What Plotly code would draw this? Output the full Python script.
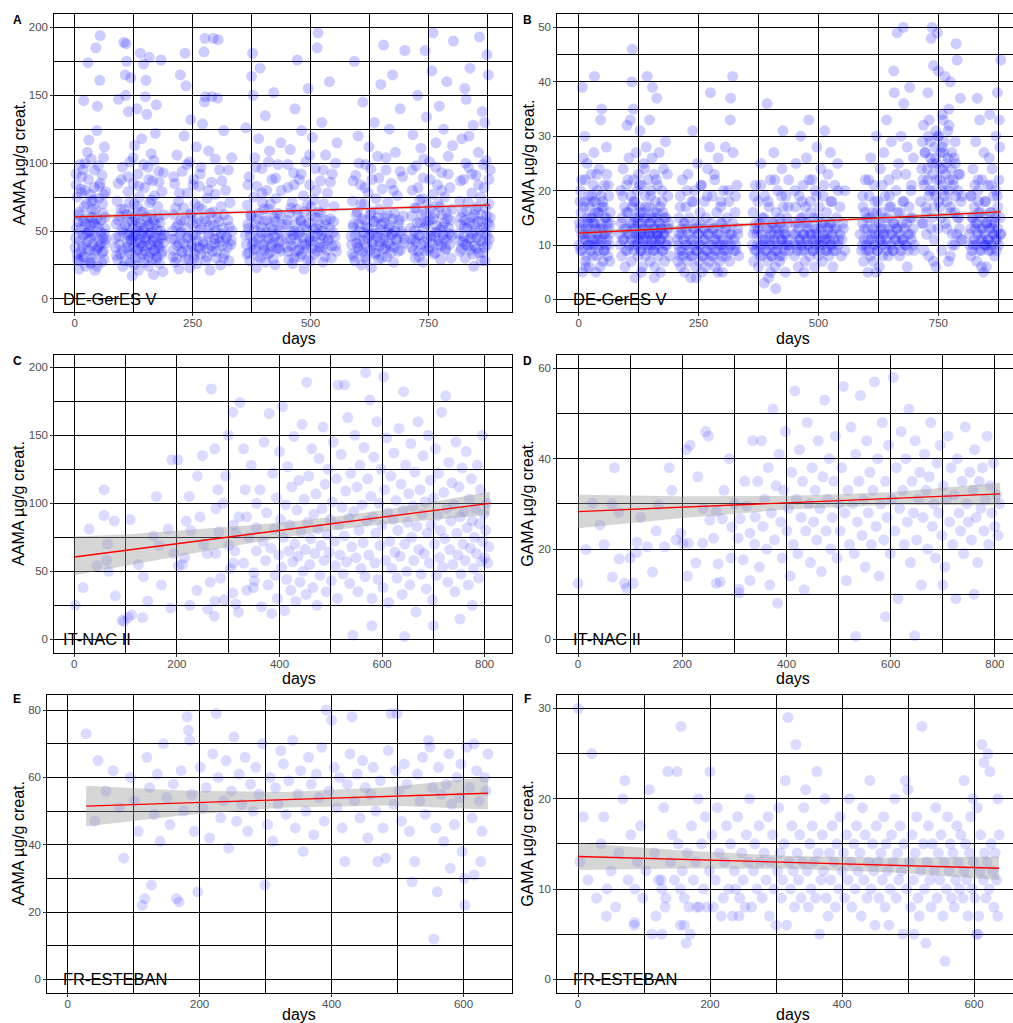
import plotly.graph_objects as go

W, H = 1013, 1023

# ---------------- DATA ----------------
# Panel A: DE-GerES V, AAMA (days, value)
A_obs = [
(2,45),(5,33),(8,62),(10,28),(12,51),(14,78),(16,39),(18,95),(19,146),(21,57),
(23,24),(25,70),(26,42),(28,174),(29,88),(31,36),(33,54),(35,103),(36,30),(38,66),
(40,47),(41,82),(43,21),(45,185),(46,59),(48,142),(49,38),(51,74),(53,161),(54,194),
(55,49),(57,27),(58,91),(60,63),(61,35),(63,112),(64,52),(66,44),(3,84),(7,57),
(11,99),(15,31),(20,68),(24,48),(30,117),(34,26),(39,73),(44,55),(50,98),(56,41),
(62,77),(9,22),(27,108),(47,124),(37,60),
(1,38),(4,52),(6,29),(9,64),(12,43),(13,35),(17,58),(18,47),(20,31),(22,80),
(24,55),(26,37),(28,49),(30,61),(32,27),(34,44),(36,72),(38,40),(40,56),(42,33),
(44,66),(46,46),(48,24),(50,53),(52,39),(54,85),(56,58),(58,34),(60,45),(62,29),
(64,60),(65,41),(5,75),(15,90),(31,50),(47,36),(59,70),(63,48),
(3,92),(13,81),(22,100),(33,77),(42,95),(52,83),(61,104),(66,79),
(86,38),(88,55),(90,72),(91,29),(93,147),(94,46),(96,61),(97,33),(99,88),(100,51),
(102,24),(104,189),(105,66),(107,165),(108,150),(109,188),(110,175),(111,42),(112,57),(113,79),
(114,138),(115,35),(116,49),(117,101),(118,27),(119,163),(120,63),(121,44),(122,17),(123,52),
(124,85),(125,38),(126,70),(127,113),(128,30),(129,47),(130,58),(132,140),(133,36),(134,92),
(135,21),(136,53),(137,75),(139,181),(140,41),(141,64),(142,118),(143,33),(144,50),(146,173),
(147,27),(148,82),(149,45),(150,149),(151,161),(152,60),(153,136),(154,39),(155,97),(156,24),
(157,55),(158,178),(159,71),(160,34),(161,48),(162,107),(163,62),(164,29),(165,87),(166,43),
(167,18),(168,58),(169,76),(170,36),(171,122),(173,143),(174,51),(175,31),(176,68),(177,40),
(178,94),(180,26),(181,56),(183,176),(184,45),(185,79),(186,35),(187,20),(189,62),(190,47),
(87,45),(89,32),(92,58),(95,40),(98,66),(101,36),(103,49),(106,28),(108,54),(110,62),
(112,38),(114,47),(116,71),(118,43),(120,33),(122,57),(124,46),(126,25),(128,60),(130,42),
(131,50),(133,68),(135,37),(137,44),(138,56),(140,30),(142,48),(144,39),(145,64),(147,52),
(149,35),(151,43),(153,58),(155,47),(157,31),(159,54),(161,40),(163,73),(165,49),(167,36),
(169,45),(171,55),(173,29),(175,42),(177,60),(179,38),(182,50),(184,33),(186,47),(188,41),
(92,85),(101,97),(113,90),(124,104),(136,83),(146,99),(157,88),(168,102),(179,86),(188,93),
(206,44),(208,31),(210,62),(212,85),(213,27),(215,53),(217,106),(218,39),(220,72),(221,22),
(223,48),(224,165),(225,58),(227,35),(228,94),(230,41),(231,67),(232,120),(234,181),(235,29),
(236,157),(237,52),(239,78),(240,36),(241,45),(243,101),(244,23),(246,132),(247,63),(248,40),
(250,55),(252,88),(253,30),(255,70),(256,47),(258,112),(259,26),(261,59),(262,38),(264,83),
(265,51),(267,33),(268,97),(270,66),(271,129),(272,42),(274,182),(275,145),(276,192),(277,149),
(278,28),(279,57),(281,74),(282,37),(284,109),(285,48),(287,21),(288,63),(290,86),(291,149),
(292,35),(294,192),(295,54),(297,41),(298,77),(300,30),(302,60),(303,148),(304,191),(305,45),
(307,95),(309,25),(310,68),(312,39),(314,52),(316,124),(318,33),(320,80),(322,46),(325,58),
(327,28),(329,71),(331,40),(333,104),(334,50),
(207,50),(209,36),(211,44),(214,67),(216,30),(219,55),(222,41),(226,49),(229,34),(233,58),
(238,45),(242,29),(245,62),(249,38),(251,47),(254,33),(257,56),(260,43),(263,68),(266,37),
(269,52),(273,40),(276,59),(280,31),(283,46),(286,54),(289,39),(293,64),(296,44),(299,50),
(301,35),(306,57),(308,42),(311,48),(315,30),(317,62),(321,45),(324,38),(328,53),(332,43),
(210,90),(222,78),(238,99),(251,84),(266,92),(283,80),(298,103),(312,87),(326,95),
(362,47),(363,126),(365,33),(366,69),(368,52),(370,90),(371,28),(373,61),(375,164),(376,40),
(377,181),(378,150),(379,75),(380,36),(382,104),(383,55),(385,23),(386,83),(388,44),(390,118),
(391,63),(393,170),(394,30),(395,49),(397,96),(398,71),(400,38),(402,57),(404,135),(405,27),
(407,80),(409,45),(411,66),(413,109),(414,34),(416,53),(418,88),(420,41),(422,152),(423,60),
(425,25),(427,74),(429,48),(431,99),(433,37),(435,62),(437,115),(439,43),
(364,40),(367,55),(369,34),(372,47),(374,62),(378,42),(381,51),(384,37),(387,59),(389,31),
(392,45),(396,53),(399,40),(401,66),(403,36),(406,49),(408,58),(410,33),(412,44),(415,70),
(417,39),(419,51),(421,29),(424,46),(426,57),(428,37),(430,63),(432,42),(434,50),(436,35),(438,55),
(367,84),(384,97),(397,78),(411,101),(426,89),(438,80),
(448,55),(450,38),(452,82),(454,29),(455,63),(457,110),(459,44),(461,71),(462,26),(464,93),
(466,50),(467,140),(469,35),(471,66),(472,176),(474,47),(476,88),(478,31),(479,58),(481,124),
(483,40),(485,76),(486,22),(488,54),(490,101),(491,37),(493,69),(495,155),(497,45),(498,84),
(500,28),(502,61),(504,119),(505,42),(507,73),(509,33),(510,96),(512,52),(514,185),(516,196),
(517,64),(519,38),(521,87),(523,47),(524,130),(526,27),(528,70),(530,55),(532,106),(534,36),
(536,78),(538,44),(540,160),(542,59),(544,30),(546,92),(548,49),(550,68),(553,39),(556,115),
(449,45),(451,58),(453,35),(456,50),(458,67),(460,39),(463,47),(465,30),(468,55),(470,42),
(473,62),(475,36),(477,49),(480,57),(482,33),(484,45),(487,64),(489,40),(492,51),(494,29),
(496,56),(499,43),(501,68),(503,37),(506,52),(508,46),(511,60),(513,35),(515,48),(518,55),
(520,41),(522,63),(525,38),(527,50),(529,45),(531,31),(533,58),(537,43),(541,52),(545,39),
(549,57),(552,46),(555,35),
(452,99),(465,84),(480,92),(498,106),(512,80),(527,95),(542,86),(553,100),
(586,46),(588,33),(589,72),(591,55),(593,175),(594,28),(596,91),(598,41),(599,64),(601,120),
(603,36),(604,50),(606,84),(608,25),(609,59),(611,145),(612,43),(614,70),(616,31),(617,99),
(619,53),(620,38),(622,78),(624,112),(625,47),(627,62),(629,23),(630,88),(632,40),(634,57),
(635,130),(637,34),(639,74),(640,49),(642,105),(644,29),(645,66),(647,42),(649,158),(650,55),
(652,81),(654,37),(655,187),(657,60),(659,45),(660,95),(662,31),(664,71),(666,52),(667,125),
(669,39),(671,85),(673,48),(674,165),(676,27),(678,63),(680,108),(682,44),(684,76),(686,35),
(688,58),(690,140),(692,50),(695,90),(698,41),(700,183),
(587,40),(590,53),(592,31),(595,47),(597,62),(600,38),(602,55),(605,43),(607,70),(610,35),
(613,49),(615,58),(618,29),(621,45),(623,52),(626,36),(628,64),(631,42),(633,48),(636,57),
(638,33),(641,46),(643,60),(646,39),(648,51),(651,30),(653,44),(656,56),(658,37),(661,49),
(663,62),(665,41),(668,54),(670,34),(672,47),(675,59),(677,38),(679,50),(683,43),(687,55),
(691,36),(694,48),(697,61),(699,44),
(590,87),(603,100),(615,82),(628,96),(645,89),(660,104),(676,80),(690,94),
(712,52),(714,38),(716,80),(717,121),(719,44),(721,67),(722,30),(724,98),(726,56),(727,150),
(729,35),(731,73),(732,47),(734,111),(736,62),(738,27),(739,89),(741,42),(743,183),(745,55),
(746,134),(748,70),(750,36),(752,101),(753,58),(755,46),(757,168),(759,77),(760,196),(762,33),
(764,63),(766,115),(767,49),(769,84),(771,40),(773,142),(774,68),(776,29),(778,93),(780,53),
(782,125),(783,44),(785,75),(787,37),(789,160),(790,59),(792,105),(794,48),(796,82),(798,30),
(800,66),(803,190),(801,113),
(713,44),(715,61),(718,36),(720,50),(723,42),(725,67),(728,47),(730,31),(733,56),(735,40),
(737,74),(740,52),(742,35),(744,63),(747,45),(749,57),(751,38),(754,66),(756,49),(758,41),
(761,59),(763,46),(765,34),(768,54),(770,70),(772,43),(775,51),(777,39),(779,62),(781,47),
(784,56),(786,36),(788,64),(791,44),(793,52),(795,40),(797,58),(799,47),
(715,95),(728,82),(740,103),(753,88),(765,97),(778,80),(792,92),
(814,48),(816,72),(817,35),(819,60),(821,118),(823,42),(824,88),(826,53),(828,30),(830,147),
(831,65),(833,39),(835,97),(837,56),(838,170),(840,45),(842,78),(844,33),(845,128),(847,62),
(849,50),(851,91),(852,37),(854,68),(856,108),(858,193),(859,43),(861,75),(863,57),(864,138),
(866,34),(868,82),(870,49),(872,102),(873,61),(875,40),(877,165),(878,70),(880,54),(881,95),
(846,24),(862,28),(836,120),(827,155),(869,130),(874,180),
(815,43),(818,55),(820,37),(822,64),(825,46),(827,58),(829,40),(832,52),(834,71),(836,44),
(839,36),(841,60),(843,48),(846,55),(848,39),(850,66),(853,45),(855,57),(857,34),(860,50),
(862,62),(865,42),(867,53),(869,38),(871,67),(874,47),(876,56),(879,44),(881,60),(870,28),
(818,87),(829,100),(842,92),(856,84),(866,99),(878,88),
]

# Panel B: DE-GerES V, GAMA (days, value)
B_obs = [
(2,14),(4,9),(6,22),(8,39),(9,11),(11,17),(13,30),(14,7),(16,13),(18,25),
(19,10),(21,19),(22,6),(24,15),(26,23),(27,12),(29,8),(30,18),(32,27),(33,41),
(34,14),(36,5),(37,11),(39,20),(40,16),(42,9),(43,24),(45,13),(46,33),(48,35),
(49,17),(51,7),(52,12),(54,21),(55,15),(57,10),(58,28),(60,14),(61,8),(63,19),
(64,12),(66,16),(3,18),(7,12),(10,26),(15,6),(20,14),(25,10),(31,21),(35,16),
(41,11),(47,19),(53,9),(59,23),(65,7),
(1,10),(3,13),(5,16),(7,9),(9,14),(11,12),(12,18),(14,11),(16,8),(17,15),
(19,12),(21,10),(23,17),(24,13),(26,9),(28,15),(29,11),(31,14),(33,10),(35,18),
(37,13),(38,8),(40,12),(42,16),(44,10),(46,14),(48,11),(50,13),(52,17),(54,9),
(56,12),(58,15),(60,11),(62,13),(64,10),(66,14),
(4,20),(14,22),(27,19),(38,23),(50,18),(62,21),(8,5),(45,6),
(86,12),(88,20),(90,8),(91,15),(93,24),(94,11),(96,17),(97,6),(99,13),(100,21),
(101,32),(102,9),(104,16),(105,26),(107,12),(108,33),(109,19),(110,7),(111,40),(112,46),
(113,14),(114,35),(115,22),(116,10),(117,18),(118,4),(119,13),(120,27),(121,11),(122,20),
(123,15),(124,8),(125,23),(126,12),(127,17),(128,31),(129,9),(130,14),(132,21),(133,6),
(134,16),(135,11),(136,25),(137,13),(139,19),(140,8),(141,28),(142,15),(143,41),(144,10),
(145,22),(146,12),(147,17),(148,33),(149,7),(150,14),(151,20),(152,11),(153,26),(154,39),
(155,9),(156,16),(157,13),(158,23),(159,6),(160,18),(161,10),(162,15),(163,37),(164,12),
(165,21),(166,8),(167,14),(168,27),(169,11),(170,17),(171,5),(172,13),(174,20),(175,9),
(176,16),(177,24),(178,12),(179,7),(181,29),(182,15),(184,10),(186,19),(188,13),(190,8),
(87,10),(89,14),(92,11),(95,13),(98,9),(100,16),(103,12),(106,10),(108,14),(110,11),
(112,17),(114,13),(116,9),(118,15),(120,12),(122,10),(124,14),(126,11),(128,16),(130,12),
(131,9),(133,13),(135,10),(137,15),(138,12),(140,17),(142,11),(144,13),(145,9),(147,14),
(149,12),(151,10),(153,15),(155,12),(157,9),(159,13),(161,11),(163,16),(165,12),(167,10),
(169,14),(171,11),(173,13),(175,9),(177,12),(179,15),(182,10),(184,13),(186,11),(188,14),
(92,19),(103,22),(115,18),(127,21),(138,24),(150,19),(162,22),(174,18),(185,23),(131,5),(158,4),
(206,11),(207,7),(209,15),(210,9),(212,19),(213,6),(215,12),(216,22),(218,8),(219,14),
(221,5),(222,10),(224,17),(225,13),(227,7),(228,23),(230,9),(231,15),(233,11),(234,4),
(236,18),(237,8),(238,31),(239,13),(241,10),(242,20),(244,6),(245,14),(247,9),(248,25),
(250,12),(251,7),(253,16),(254,10),(256,21),(257,5),(259,13),(260,8),(262,18),(263,11),
(265,6),(266,15),(268,9),(269,24),(271,12),(272,7),(273,28),(275,38),(276,14),(278,10),
(279,19),(281,8),(282,13),(284,22),(285,6),(287,11),(288,16),(290,9),(291,26),(293,12),
(294,7),(296,17),(297,10),(299,14),(300,5),(302,20),(303,9),(305,13),(306,28),(308,8),
(309,15),(311,11),(313,18),(315,7),(316,33),(317,37),(319,12),(321,41),(322,27),(324,9),
(326,16),(328,10),(330,21),(332,13),(334,8),
(207,10),(209,12),(211,8),(214,13),(216,9),(219,11),(222,14),(226,10),(229,12),(233,8),
(238,11),(242,13),(245,9),(249,12),(251,10),(254,14),(257,8),(260,11),(263,13),(266,9),
(269,12),(273,10),(276,8),(280,13),(283,11),(286,9),(289,12),(293,10),(296,14),(299,8),
(301,11),(306,10),(308,13),(311,9),(315,12),(317,10),(321,14),(324,11),(328,9),(332,12),
(212,17),(226,20),(240,18),(255,21),(268,19),(283,23),(297,18),(312,20),(327,19),(245,4),(290,5),
(362,10),(364,16),(365,7),(367,13),(369,21),(370,9),(372,12),(374,18),(375,6),(377,14),
(379,10),(380,25),(382,8),(383,15),(385,11),(387,3),(388,19),(390,9),(392,13),(393,36),
(395,7),(397,17),(398,11),(400,22),(402,8),(403,14),(405,10),(407,27),(408,12),(410,6),
(412,16),(414,9),(415,20),(417,13),(419,7),(420,15),(422,11),(424,24),(425,8),(427,17),
(429,12),(431,5),(432,19),(434,10),(436,14),(438,22),(439,9),(426,31),(411,2),(396,4),
(364,12),(367,9),(369,14),(372,10),(374,13),(378,8),(381,12),(384,10),(387,15),(389,11),
(392,9),(396,13),(399,10),(401,12),(403,8),(406,14),(408,11),(410,9),(412,13),(415,10),
(417,12),(419,8),(421,14),(424,11),(426,10),(428,13),(430,9),(432,12),(434,15),(436,11),(438,10),
(366,19),(380,21),(395,18),(409,22),(423,19),(437,17),(400,5),
(448,12),(450,8),(452,17),(453,25),(455,10),(457,14),(458,6),(460,19),(462,11),(463,30),
(465,9),(467,15),(468,21),(470,12),(472,7),(473,17),(475,26),(477,10),(478,14),(480,33),
(482,8),(483,18),(485,12),(487,22),(488,9),(490,15),(492,6),(493,20),(495,11),(497,28),
(498,13),(500,8),(502,17),(503,10),(505,24),(507,14),(508,7),(510,19),(512,11),(513,31),
(515,9),(517,16),(518,12),(520,23),(522,8),(523,14),(525,27),(527,10),(528,18),(530,6),
(532,13),(534,21),(536,9),(538,15),(540,25),(542,11),(545,17),(548,8),(551,14),(555,20),
(449,10),(451,14),(453,12),(456,9),(458,13),(460,11),(463,15),(465,10),(468,12),(470,9),
(473,14),(475,11),(477,13),(480,10),(482,12),(484,16),(487,11),(489,9),(492,13),(494,10),
(496,12),(499,15),(501,11),(503,9),(506,13),(508,10),(511,12),(513,14),(515,11),(518,9),
(520,13),(522,11),(525,10),(527,14),(529,12),(531,9),(533,11),(537,13),(541,10),(545,12),
(549,11),(552,13),(555,9),
(451,20),(466,18),(481,22),(496,19),(511,21),(526,18),(541,20),(470,5),
(591,10),(593,17),(594,7),(596,13),(598,22),(599,9),(601,15),(603,5),(604,11),(606,19),
(608,8),(609,26),(611,12),(613,16),(614,7),(616,21),(618,10),(619,14),(621,30),(622,9),
(624,18),(626,12),(627,6),(629,24),(631,11),(632,16),(634,8),(636,27),(637,13),(639,19),
(641,10),(642,33),(644,15),(646,8),(647,22),(649,12),(651,17),(652,29),(654,9),(656,14),
(657,42),(658,38),(660,11),(662,20),(664,49),(665,13),(667,25),(669,8),(670,16),(672,30),
(674,11),(676,18),(677,50),(678,36),(680,10),(682,23),(684,14),(685,28),(687,9),(689,17),
(690,39),(692,12),(694,21),(696,15),(698,26),(700,10),
(587,12),(590,9),(592,14),(595,11),(597,16),(600,10),(602,13),(605,9),(607,15),(610,11),
(613,13),(615,10),(618,12),(621,16),(623,9),(626,14),(628,11),(631,13),(633,10),(636,12),
(638,15),(641,11),(643,9),(646,13),(648,17),(651,10),(653,12),(656,9),(658,14),(661,11),
(663,13),(665,16),(668,10),(670,12),(672,9),(675,14),(677,11),(679,13),(683,10),(687,12),
(691,15),(694,11),(697,13),(699,9),
(592,19),(605,22),(618,18),(633,21),(648,19),(663,23),(678,18),(693,20),(620,5),(685,6),
(716,14),(718,22),(719,32),(720,9),(722,27),(724,17),(725,12),(727,24),(729,30),(730,8),
(732,20),(733,26),(735,48),(736,15),(737,50),(738,23),(740,43),(741,11),(743,28),(744,19),
(746,25),(748,49),(749,13),(750,42),(751,30),(753,22),(754,17),(755,27),(757,9),(758,34),
(759,24),(761,20),(762,29),(764,41),(765,14),(767,25),(768,18),(770,31),(771,7),(773,22),
(775,40),(776,16),(778,27),(779,12),(781,21),(783,26),(784,10),(786,19),(787,47),(789,44),
(790,15),(792,23),(794,13),(796,37),(797,18),(799,11),(745,6),(760,33),(772,35),(728,38),
(713,18),(715,24),(718,14),(720,21),(723,27),(725,16),(728,22),(730,19),(733,29),(735,13),
(737,25),(740,20),(742,17),(744,26),(747,22),(749,30),(751,18),(754,24),(756,15),(758,21),
(761,27),(763,19),(765,23),(768,13),(770,26),(772,20),(775,17),(777,24),(779,10),(781,22),
(784,16),(786,25),(788,12),(791,20),(793,15),(795,23),(797,11),(799,19),
(717,29),(731,33),(745,31),(758,28),(772,32),(785,29),(740,7),(775,8),
(815,12),(817,19),(818,8),(820,15),(822,24),(823,10),(825,17),(827,13),(828,29),(830,7),
(831,14),(833,20),(835,11),(836,33),(838,16),(839,9),(841,22),(843,13),(845,27),(846,10),
(848,18),(850,6),(851,14),(853,21),(855,11),(857,34),(858,16),(860,9),(862,24),(863,13),
(865,19),(867,8),(869,15),(870,30),(872,11),(874,17),(876,22),(877,33),(879,12),(880,44),
(831,37),(844,5),(856,26),(866,12),(873,38),(852,10),(834,18),(861,14),(878,28),(826,21),
(815,10),(818,13),(820,9),(822,15),(825,11),(827,14),(829,10),(832,12),(834,16),(836,9),
(839,13),(841,11),(843,15),(846,12),(848,10),(850,14),(853,11),(855,9),(857,13),(860,16),
(862,10),(865,12),(867,14),(869,11),(871,9),(874,13),(876,10),(879,15),(881,12),(870,20),
(819,19),(833,22),(847,18),(860,21),(873,19),(840,6),
]

# Panel C: IT-NAC II, AAMA
C_obs = [
(2,25),(17,38),(29,81),(44,54),(58,91),(58,110),(63,58),(65,70),(67,50),(78,87),
(80,32),(93,14),(97,13),(105,16),(109,88),(112,18),(125,55),(133,16),(135,46),(143,28),
(154,76),(160,105),(165,69),(170,40),(183,81),(188,23),(190,132),(194,63),(202,132),(203,54),
(211,55),(215,60),(218,87),(224,105),(225,25),(227,80),(239,36),(240,120),(245,90),(250,135),
(252,70),(259,63),(260,22),(265,42),(267,184),(273,17),(274,28),(274,140),(276,63),(276,96),
(280,110),(282,79),(285,45),(290,100),(292,29),(295,120),(300,150),(301,69),(304,52),(309,34),
(309,167),(310,56),(310,84),(313,65),(315,78),(315,26),(320,20),(321,90),(323,174),(330,56),
(330,140),(333,110),(336,36),(336,90),(340,75),(345,128),(349,38),(350,49),(351,43),(355,65),
(355,82),(355,100),
(362,110),(365,24),(368,72),(370,145),(373,58),(375,93),(378,40),(380,166),(383,67),(385,19),
(387,122),(390,81),(392,47),(394,104),(396,30),(398,62),(400,138),(402,88),(404,53),(406,171),
(408,75),(410,21),(412,99),(414,44),(416,127),(418,65),(420,84),(422,36),(424,112),(426,57),
(428,149),(430,70),(432,28),(434,95),(436,61),(438,117),(440,42),(442,79),(444,158),(446,50),
(448,103),(450,66),(452,33),(453,189),(455,86),(457,120),(459,55),(461,74),(463,140),(465,38),
(467,92),(469,63),(471,107),(473,25),(475,81),(477,133),(479,47),(481,69),(483,96),(485,156),
(487,58),(489,114),(491,35),(493,77),(495,125),(497,64),(499,88),(501,43),(503,101),(505,145),
(507,72),(509,54),(511,118),(513,30),(514,187),(516,84),(518,62),(520,136),(522,97),(524,48),
(526,76),(527,187),(529,109),(531,57),(533,163),(535,89),(537,41),(539,122),(541,68),(543,3),
(545,94),(547,150),(549,60),(551,112),(553,35),(555,80),(557,128),(559,52),(561,99),(563,71),
(565,141),(567,46),(568,196),(570,87),(572,118),(574,62),(576,176),(578,105),(580,30),(582,90),
(584,134),(586,56),(588,78),(590,160),(592,44),(594,100),(596,69),(598,125),(600,84),(602,38),
(603,193),(605,110),(607,58),(609,148),(611,93),(613,27),(615,72),(617,120),(619,52),(621,88),
(623,137),(625,64),(627,102),(629,45),(631,80),(633,155),(635,61),(637,114),(639,33),(641,95),
(642,182),(644,70),(646,128),(648,50),(650,86),(652,107),(654,40),(656,144),(658,75),(660,98),
(662,58),(664,123),(666,20),(668,83),(670,160),(672,66),(674,110),(676,48),(678,92),(680,135),
(682,63),(684,101),(686,37),(688,78),(690,150),(692,56),(694,117),(696,84),(698,29),(700,104),
(702,70),(704,140),(706,47),(708,91),(710,122),(712,60),(714,80),(716,167),(718,53),(720,108),
(722,74),(724,179),(726,96),(728,42),(730,130),(732,66),(734,87),(736,115),(738,55),(740,99),
(742,35),(744,145),(746,78),(748,62),(750,112),(752,90),(754,48),(756,126),(758,70),(760,94),
(762,58),(764,138),(766,82),(768,40),(770,103),(772,67),(774,118),(776,87),(778,52),(780,75),
(782,96),(784,63),(786,128),(788,45),(790,85),(792,110),(794,57),(796,72),(798,92),(800,60),
(802,80),(804,100),(806,56),(808,68),(796,150),(776,25),(752,15),(700,10),(644,2),(580,10),
]

# Panel D: IT-NAC II, GAMA
D_obs = [
(0,12.4),(15,19.9),(28,30.2),(42,25.3),(50,21),(65,30),(66,13.8),(70,38),(78,28.1),(79,17.8),
(89,12.4),(93,11.3),(100,18),(106,12.4),(112,19.2),(113,21.5),(120,27),(133,20.5),(143,14.9),(150,24),
(154,29.8),(166,20.5),(175,38),(180,33),(188,22),(197,23.5),(201,21.3),(208,42),(210,14),(212,21.3),
(215,43),(226,16.9),(230,36),(239,21.3),(240,29),(245,46),(250,45),(253,26.4),(260,22.4),(265,28.3),
(265,12.4),(269,16.7),(273,12.7),(277,26.7),(280,33),(290,40),(294,18),(295,24.9),(300,30),(307,22.4),
(309,11.1),(309,10.3),(311,26.7),(317,17.6),(320,35),(324,29.6),(330,23.5),(330,13),(335,44),(339,21.1),
(340,27.1),
(345,35),(348,16),(352,44),(355,25),(358,31),(362,20),(365,38),(368,12),(371,28),(374,51),
(377,22),(380,34),(383,8),(386,41),(389,26),(392,18),(395,33),(398,46),(401,24),(404,29),
(407,14),(410,37),(413,21),(416,55),(419,31),(422,19),(425,42),(428,27),(431,35),(434,11),
(437,24),(440,48),(443,30),(446,17),(449,38),(452,26),(455,33),(458,22),(461,44),(464,29),
(467,15),(470,36),(473,53),(476,24),(479,31),(482,40),(485,20),(488,27),(491,35),(494,45),
(497,18),(500,30),(503,24),(506,38),(509,56),(512,28),(515,13),(518,33),(521,21),(524,47),
(527,30),(530,19),(533,41),(536,26),(539,35),(542,54),(545,23),(548,31),(551,16),(554,44),
(557,28),(560,37),(563,21),(566,33),(569,57),(572,25),(575,40),(578,14),(581,30),(584,48),
(587,22),(590,35),(593,27),(596,43),(599,19),(602,31),(605,58),(608,24),(611,38),(614,9),
(617,29),(620,46),(623,33),(626,21),(629,40),(632,26),(635,51),(638,17),(641,35),(644,28),
(647,44),(650,22),(653,31),(656,37),(659,12),(662,27),(665,41),(668,33),(671,20),(674,36),
(677,48),(680,25),(683,30),(686,18),(689,39),(692,28),(695,43),(698,23),(701,34),(704,16),
(707,31),(710,45),(713,26),(716,38),(719,21),(722,32),(725,9),(728,40),(731,28),(734,24),
(737,35),(740,19),(743,47),(746,30),(749,26),(752,37),(755,22),(758,33),(761,42),(764,27),
(767,17),(770,35),(773,29),(776,38),(779,24),(782,31),(785,45),(788,21),(791,34),(794,28),
(797,39),(800,25),(803,32),(806,23),(809,30),(590,5),(533,0.7),(700,12),(646,0.8),(760,10),
]

# Panel E: FR-ESTEBAN, AAMA
E_obs = [
(28,73),(41,47),(46,65),(58,56),(69,62),(78,51),(85,36),(95,60),(101,53),(107,44),
(113,22),(117,24),(120,66),(124,57),(127,28),(131,49),(136,61),(140,41),(145,70),(150,54),
(155,46),(160,58),(165,24),(169,23),(172,62),(176,50),(181,78),(183,74),(185,71),(188,55),
(192,44),(197,26),(201,63),(205,51),(210,57),(215,42),(220,67),(225,79),(228,60),(232,48),
(236,53),(240,65),(244,39),(248,56),(252,72),(256,47),(260,61),(264,52),(269,66),(273,44),
(277,58),(281,50),(285,63),(290,55),(295,70),(299,28),(303,46),(307,60),(311,41),(315,57),
(319,52),(323,68),(327,64),(331,49),(335,59),(341,71),(345,45),(349,55),(353,62),(357,38),
(361,50),(365,66),(369,58),(373,43),(377,61),(381,54),(385,69),(389,47),(392,80),(396,56),
(400,77),(404,63),(408,51),(412,60),(416,45),(420,35),(424,58),(428,67),(431,78),(435,53),
(439,61),(443,48),(447,65),(451,57),(455,42),(459,55),(463,63),(467,50),(470,35),(474,59),
(478,45),(482,36),(486,68),(490,79),(494,52),(497,62),(499,79),(502,56),(506,47),(510,64),
(514,58),(518,44),(522,29),(526,35),(530,61),(534,53),(538,66),(542,49),(547,71),(549,69),
(553,57),(555,12),(558,45),(562,63),(566,55),(570,41),(574,58),(578,67),(582,52),(586,46),
(590,60),(594,54),(598,38),(601,30),(602,22),(605,69),(609,57),(613,48),(616,70),(616,31),
(620,62),(624,53),(628,44),(632,60),(637,67),(634,56),(626,35),(596,64),(580,33),(560,26),
]

# Panel F: FR-ESTEBAN, GAMA
F_obs = [
(0,30),(3,13),(8,18),(15,11),(21,25),(28,9),(35,15),(39,18),(43,7),(44,10),
(50,12),(57,8),(62,14),(68,20),(71,22),(76,11),(80,16),(85,6),(86,6.3),(86,10),
(90,13),(95,17),(98,9),(103,12),(108,21),(112,5),(116,14),(118,7),(122,11),(126,11),
(127,10),(127,5),(130,19),(132,8),(133,9),(136,23),(140,13),(143,16),(146,11),(150,23),
(152,15),(155,10),(155,6),(156,28),(158,12),(161,9),(161,6),(164,4),(166,14),(168,8),
(170,5),(172,17),(175,11),(178,13),(180,8),(182,20),(184,8),(187,15),(190,10),(193,18),
(196,8),(199,12),(200,23),(203,16),(205,8),(208,11),(211,19),(214,14),(217,7),(220,9),
(222,13),(225,17),(228,10),(231,15),(234,7),(237,12),(239,10),(242,18),(244,7),(245,9),
(248,14),(250,11),(253,8),(255,16),(258,13),(260,20),(263,8),(266,12),(268,15),(271,10),
(274,17),(276,13),(279,9),(282,14),(285,11),(288,18),(290,7),(292,13),(295,16),(297,10),
(300,6),(302,12),(304,19),(306,14),(308,9),(310,11),(312,15),(314,22),(316,6),(318,29),
(320,13),(322,10),(324,17),(326,12),(328,8),(330,26),(332,14),(334,11),(336,16),(338,9),
(340,13),(342,19),(345,21),(347,12),(349,8),(351,15),(353,10),(355,17),(357,13),(360,9),
(362,23),(364,14),(366,5),(368,11),(370,16),(372,12),(374,20),(376,9),(379,7),(381,14),
(383,11),(385,17),(388,13),(390,8),(392,15),(395,10),(397,18),(400,12),(402,14),(404,9),
(407,16),(409,11),(411,20),(413,13),(415,8),(418,15),(420,10),(422,17),(424,12),(427,14),
(429,7),(431,19),(433,11),(435,16),(438,9),(440,13),(442,22),(444,10),(446,15),(448,12),
(450,6),(452,17),(454,13),(456,9),(459,14),(461,11),(463,18),(465,8),(467,15),(469,12),
(471,6),(473,10),(475,16),(477,13),(480,20),(482,9),(484,14),(486,11),(488,17),(490,12),
(492,5),(494,15),(496,22),(498,10),(500,21),(502,13),(504,8),(506,16),(508,11),(509,5),
(511,14),(513,18),(515,9),(517,7),(519,12),(521,28),(523,15),(525,10),(527,4),(529,13),
(531,17),(533,11),(535,8),(537,15),(540,12),(542,19),(544,9),(546,14),(548,11),(550,16),
(553,7),(555,13),(556,2),(558,10),(560,18),(562,12),(564,15),(566,9),(568,14),(570,8),
(572,11),(574,17),(576,13),(578,10),(580,16),(583,9),(585,12),(587,15),(589,11),(591,7),
(593,14),(595,18),(597,10),(599,13),(601,9),(604,5),(606,5),(607,7),(609,12),(610,16),
(612,26),(614,11),(616,14),(618,9),(620,13),(621,25),(623,10),(624,23),(626,15),(628,12),
(630,8),(632,14),(634,11),(636,20),(636,7),(638,16),(615,24),(605,19),(598,20),(585,22),
]

# Linear fits and 95% bands (days, value)
fit_days_A = [0, 880];  fit_A = [60.4, 69.0]
band_days_A = [0, 220, 440, 660, 880]
band_lo_A = [58.8, 61.45, 63.9, 65.85, 67.6]
band_hi_A = [62.0, 63.65, 65.5, 67.85, 70.4]

fit_days_B = [0, 880];  fit_B = [12.2, 16.1]
band_days_B = [0, 220, 440, 660, 880]
band_lo_B = [11.7, 12.83, 13.87, 14.8, 15.65]
band_hi_B = [12.7, 13.53, 14.43, 15.46, 16.55]

fit_days_C = [0, 810];  fit_C = [60.5, 100.0]
band_days_C = [0, 100, 200, 300, 400, 500, 600, 700, 810]
band_lo_C = [47.0, 53.7, 60.75, 67.8, 74.4, 80.0, 84.55, 88.0, 91.5]
band_hi_C = [75.5, 77.1, 79.75, 82.4, 85.6, 89.8, 94.95, 101.2, 108.5]

fit_days_D = [0, 810];  fit_D = [28.3, 32.2]
band_days_D = [0, 200, 400, 600, 810]
band_lo_D = [24.6, 26.86, 28.73, 29.79, 29.7]
band_hi_D = [32.0, 31.66, 31.73, 32.59, 34.7]

fit_days_E = [28, 637];  fit_E = [51.5, 55.3]
band_days_E = [28, 180, 330, 485, 637]
band_lo_E = [45.5, 48.85, 51.09, 51.65, 50.5]
band_hi_E = [57.5, 56.05, 55.69, 57.05, 60.1]

fit_days_F = [0, 638];  fit_F = [13.6, 12.3]
band_days_F = [0, 160, 320, 480, 638]
band_lo_F = [12.1, 12.27, 12.25, 11.82, 11.0]
band_hi_F = [15.1, 14.27, 13.65, 13.42, 13.6]

panel_letters = ["A", "B", "C", "D", "E", "F"]
study_names = ["DE-GerES V", "DE-GerES V", "IT-NAC II", "IT-NAC II", "FR-ESTEBAN", "FR-ESTEBAN"]
y_titles = ["AAMA µg/g creat.", "GAMA µg/g creat.", "AAMA µg/g creat.",
            "GAMA µg/g creat.", "AAMA µg/g creat.", "GAMA µg/g creat."]
x_title = "days"

# ---------------- LAYOUT (pixel geometry) ----------------
FONT = "Liberation Sans, Arial, Helvetica, sans-serif"
panels = [
    dict(obs=A_obs, fd=fit_days_A, fv=fit_A, bd=band_days_A, bl=band_lo_A, bh=band_hi_A,
         xpx=(54.3, 511.7), ypx=(14.0, 312.3), xr=(-43.3, 926.5), yr=(-9.9, 209.9),
         xd=250, xm=125, yd=50, ym=25, alpha=0.2, col=0, row=0),
    dict(obs=B_obs, fd=fit_days_B, fv=fit_B, bd=band_days_B, bl=band_lo_B, bh=band_hi_B,
         xpx=(557.3, 1013), ypx=(14.0, 312.3), xr=(-44.4, 905.6), yr=(-2.37, 52.47),
         xd=250, xm=125, yd=10, ym=5, alpha=0.2, col=1, row=0),
    dict(obs=C_obs, fd=fit_days_C, fv=fit_C, bd=band_days_C, bl=band_lo_C, bh=band_hi_C,
         xpx=(54.3, 511.7), ypx=(355.0, 652.7), xr=(-39.0, 852.7), yr=(-9.85, 209.0),
         xd=200, xm=100, yd=50, ym=25, alpha=0.14, col=0, row=1),
    dict(obs=D_obs, fd=fit_days_D, fv=fit_D, bd=band_days_D, bl=band_lo_D, bh=band_hi_D,
         xpx=(557.3, 1013), ypx=(355.0, 652.7), xr=(-39.8, 834.7), yr=(-2.97, 62.97),
         xd=200, xm=100, yd=20, ym=10, alpha=0.14, col=1, row=1),
    dict(obs=E_obs, fd=fit_days_E, fv=fit_E, bd=band_days_E, bl=band_lo_E, bh=band_hi_E,
         xpx=(47.3, 511.7), ypx=(695.0, 992.7), xr=(-30.9, 673.0), yr=(-3.98, 84.5),
         xd=200, xm=100, yd=20, ym=10, alpha=0.14, col=0, row=2),
    dict(obs=F_obs, fd=fit_days_F, fv=fit_F, bd=band_days_F, bl=band_lo_F, bh=band_hi_F,
         xpx=(557.3, 1013), ypx=(695.0, 992.7), xr=(-31.4, 659.0), yr=(-1.48, 31.48),
         xd=200, xm=100, yd=10, ym=5, alpha=0.14, col=1, row=2),
]
x_title_gap = [26, 26, 22]   # px below each row's plot bottom

fig = go.Figure()
annotations = []
layout_axes = {}

for i, p in enumerate(panels):
    n = i + 1
    xs = "x" if n == 1 else f"x{n}"
    ys = "y" if n == 1 else f"y{n}"
    xk = "xaxis" if n == 1 else f"xaxis{n}"
    yk = "yaxis" if n == 1 else f"yaxis{n}"

    days = [o[0] for o in p["obs"]]
    vals = [o[1] for o in p["obs"]]

    fig.add_trace(go.Scatter(
        x=days, y=vals, mode="markers", xaxis=xs, yaxis=ys,
        marker=dict(size=11, color=f"rgba(0,0,255,{p['alpha']})", line=dict(width=0)),
        hoverinfo="skip", showlegend=False))

    fig.add_trace(go.Scatter(
        x=p["bd"] + p["bd"][::-1], y=p["bh"] + p["bl"][::-1],
        mode="lines", fill="toself", fillcolor="rgba(153,153,153,0.4)",
        line=dict(width=0), xaxis=xs, yaxis=ys, hoverinfo="skip", showlegend=False))

    fig.add_trace(go.Scatter(
        x=p["fd"], y=p["fv"], mode="lines", line=dict(color="#ff0000", width=1.3),
        xaxis=xs, yaxis=ys, hoverinfo="skip", showlegend=False))

    x0, x1 = p["xpx"]
    yt, yb = p["ypx"]
    common = dict(showgrid=True, gridcolor="black", gridwidth=1, zeroline=False,
                  showline=True, linecolor="black", linewidth=1,
                  ticks="outside", ticklen=3, tickwidth=1, tickcolor="#333333",
                  tickfont=dict(family=FONT, size=11.5, color="#4d4d4d"),
                  fixedrange=True, tick0=0)
    layout_axes[xk] = dict(common, domain=[x0 / W, min(x1 / W, 1.0)], range=list(p["xr"]),
                           anchor=ys, dtick=p["xd"], mirror=True,
                           minor=dict(dtick=p["xm"], tick0=0, showgrid=True,
                                      gridcolor="black", gridwidth=1))
    layout_axes[yk] = dict(common, domain=[1 - yb / H, 1 - yt / H], range=list(p["yr"]),
                           anchor=xs, dtick=p["yd"], mirror=(p["col"] == 0),
                           minor=dict(dtick=p["ym"], tick0=0, showgrid=True,
                                      gridcolor="black", gridwidth=1))

    colx = 0 if p["col"] == 0 else 1
    letter_x = [17, 527][colx]
    letter_y = [20, 361, 699][p["row"]]
    annotations.append(dict(text=f"<b>{panel_letters[i]}</b>", x=letter_x / W, y=1 - letter_y / H,
                            xref="paper", yref="paper", showarrow=False,
                            xanchor="center", yanchor="middle",
                            font=dict(family=FONT, size=12, color="black")))
    annotations.append(dict(text=study_names[i], x=[61, 571][colx] / W, y=0,
                            xref="paper", yref=ys, showarrow=False,
                            xanchor="left", yanchor="middle",
                            font=dict(family=FONT, size=16.5, color="black")))
    annotations.append(dict(text=x_title, x=[299, 793][colx] / W,
                            y=1 - (yb + x_title_gap[p["row"]]) / H,
                            xref="paper", yref="paper", showarrow=False,
                            xanchor="center", yanchor="middle",
                            font=dict(family=FONT, size=16, color="black")))
    annotations.append(dict(text=y_titles[i], x=[19, 528][colx] / W, y=1 - ((yt + yb) / 2) / H,
                            xref="paper", yref="paper", showarrow=False, textangle=-90,
                            xanchor="center", yanchor="middle",
                            font=dict(family=FONT, size=16, color="black")))

fig.update_layout(
    width=W, height=H, autosize=False,
    margin=dict(l=0, r=0, t=0, b=0),
    paper_bgcolor="white", plot_bgcolor="white",
    showlegend=False, annotations=annotations,
    font=dict(family=FONT),
    **layout_axes)

# pull the x tick labels a little closer to the axis, as in the reference
try:
    fig.update_xaxes(ticklabelstandoff=-3)
except Exception:
    pass

fig.write_html("out.html",
               config={"displayModeBar": False},
               post_script="document.body.style.margin='0px';document.body.style.padding='0px';"
                           "document.documentElement.style.overflow='hidden';")
